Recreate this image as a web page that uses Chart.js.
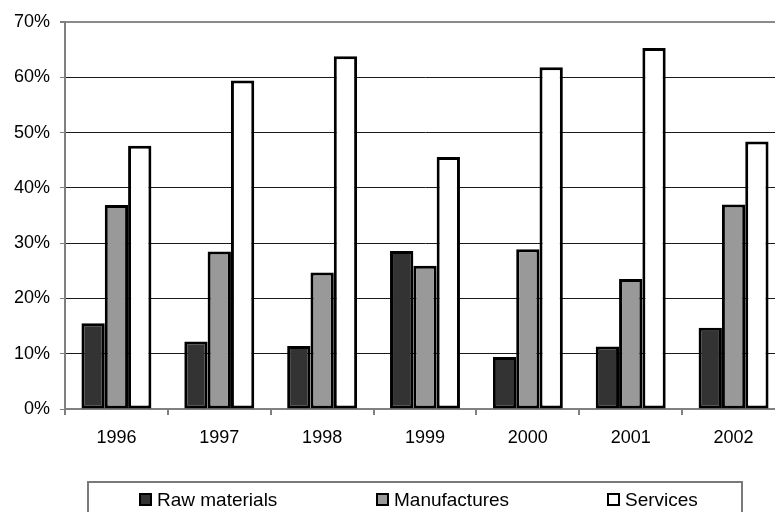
<!DOCTYPE html>
<html>
<head>
<meta charset="utf-8">
<script src="https://cdn.jsdelivr.net/npm/chart.js@4/dist/chart.umd.min.js"></script>
<style>
    html, body { margin: 0; padding: 0; background: #fff; overflow: hidden; width: 775px; height: 512px; }
    #grafico { position: absolute; left: 0; top: 0; }
    #legenda {
        position: absolute; left: 87px; top: 481px; width: 656px; height: 60px;
        border: 2px solid #7a7a7a; box-sizing: border-box;
    }
    .item-legenda { position: absolute; top: 0; font: 19px "Liberation Sans", Arial, sans-serif; color: #000; }
    .quadrado { position: absolute; top: 10px; width: 13px; height: 13px; border: 2px solid #000; box-sizing: border-box; }
    .texto { position: absolute; top: 6px; left: 18px; white-space: nowrap; }
</style>
</head>
<body>
<canvas id="grafico" width="800" height="512"></canvas>
<div id="legenda"></div>
<script>
const anos = ['1996', '1997', '1998', '1999', '2000', '2001', '2002'];
const materiasPrimas = [15.5, 12.2, 11.4, 28.6, 9.4, 11.3, 14.7];
const manufaturas = [36.9, 28.5, 24.7, 25.9, 28.9, 23.5, 37.0];
const servicos = [47.6, 59.4, 63.8, 45.6, 61.8, 65.3, 48.4];
const rotulosY = ['0%', '10%', '20%', '30%', '40%', '50%', '60%', '70%'];

const fonte = { family: '"Liberation Sans", Arial, sans-serif', size: 18 };

const ctx = document.getElementById('grafico').getContext('2d');
const grafico = new Chart(ctx, {
    type: 'bar',
    data: {
        labels: anos,
        datasets: [{
            label: 'Raw materials',
            data: materiasPrimas,
            backgroundColor: '#333333',
        }, {
            label: 'Manufactures',
            data: manufaturas,
            backgroundColor: '#999999',
        }, {
            label: 'Services',
            data: servicos,
            backgroundColor: '#ffffff',
        }]
    },
    options: {
        responsive: false,
        devicePixelRatio: 1,
        animation: false,
        layout: { padding: { top: 22, right: 15, left: 0, bottom: 0 } },
        datasets: {
            bar: {
                borderColor: '#000',
                borderWidth: 3,
                borderSkipped: false,
                categoryPercentage: 0.68,
                barPercentage: 1.0,
            }
        },
        plugins: {
            legend: { display: false },
            tooltip: { enabled: false }
        },
        scales: {
            x: {
                grid: { drawOnChartArea: false, drawTicks: true, tickLength: 6, color: '#808080', lineWidth: 2, offset: true },
                border: { color: '#808080', width: 2 },
                ticks: { color: '#000', font: fonte, padding: 12 },
                afterFit: scale => { scale.height = 103; }
            },
            y: {
                min: 0,
                max: 70,
                grid: {
                    // linha do topo (70%) mais clara e grossa
                    color: c => c.tick && c.tick.value === 70 ? '#8a8a8a' : '#1a1a1a',
                    lineWidth: c => c.tick && c.tick.value === 70 ? 2 : 1,
                    tickLength: 5,
                    tickColor: '#808080'
                },
                border: { color: '#808080', width: 2 },
                ticks: {
                    stepSize: 10,
                    color: '#000',
                    font: fonte,
                    padding: 10,
                    callback: v => rotulosY[v / 10]
                },
                afterFit: scale => { scale.width = 65; }
            }
        }
    }
});

// legenda desenhada em HTML a partir das séries do gráfico
const posicoesLegenda = [50, 287, 518];
const legenda = document.getElementById('legenda');
grafico.data.datasets.forEach((ds, i) => {
    const item = document.createElement('div');
    item.className = 'item-legenda';
    item.style.left = posicoesLegenda[i] + 'px';
    const quadrado = document.createElement('div');
    quadrado.className = 'quadrado';
    quadrado.style.background = ds.backgroundColor;
    const texto = document.createElement('span');
    texto.className = 'texto';
    texto.textContent = ds.label;
    item.appendChild(quadrado);
    item.appendChild(texto);
    legenda.appendChild(item);
});
</script>
</body>
</html>
